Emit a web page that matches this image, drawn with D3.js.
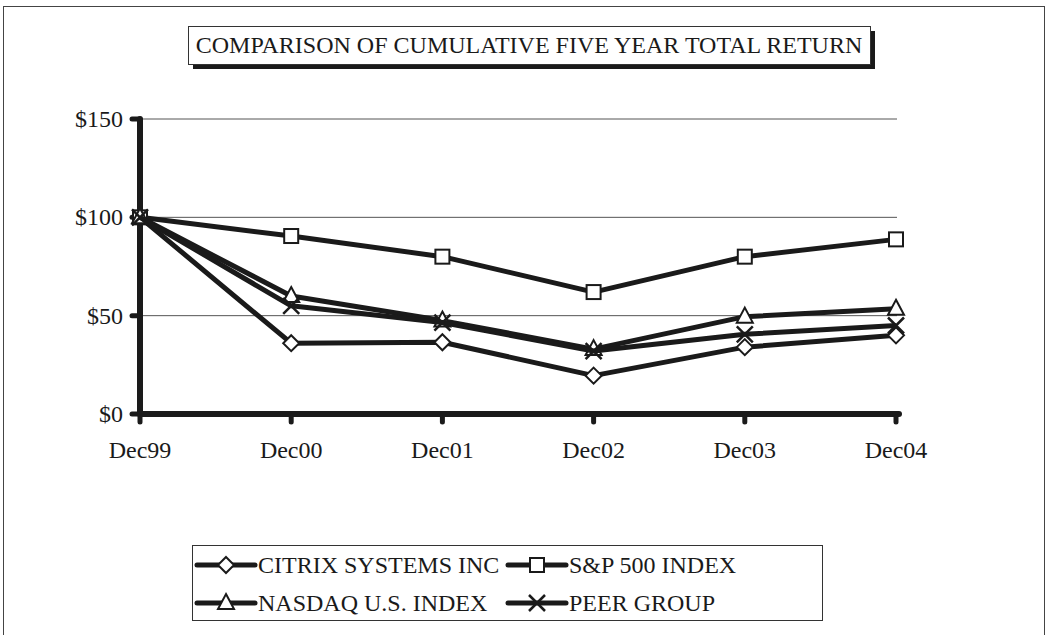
<!DOCTYPE html>
<html>
<head>
<meta charset="utf-8">
<script src="https://cdn.jsdelivr.net/npm/d3@7"></script>
<style>
  body { margin: 0; background: #fff; }
</style>
</head>
<body>
<div id="chart"></div>
<script>
// chart data
const periods = ['Dec99', 'Dec00', 'Dec01', 'Dec02', 'Dec03', 'Dec04']
const citrix = [100, 36, 36.5, 19.5, 34, 40]
const sp500 = [100, 90.5, 80, 62, 80, 88.8]
const nasdaq = [100, 60, 47.5, 33, 49.5, 53.5]
const peer = [100, 55, 46.5, 32, 40.5, 45]
const yTicks = [0, 50, 100, 150]

const series = [
  { name: 'CITRIX SYSTEMS INC', values: citrix, marker: 'diamond' },
  { name: 'S&P 500 INDEX', values: sp500, marker: 'square' },
  { name: 'NASDAQ U.S. INDEX', values: nasdaq, marker: 'triangle' },
  { name: 'PEER GROUP', values: peer, marker: 'cross' }
]

const width = 1047
const height = 635
const ink = '#1a1a1a'
const serif = '"Liberation Serif", "Times New Roman", Times, "DejaVu Serif", serif'

const svg = d3.select('#chart').append('svg')
  .attr('width', width)
  .attr('height', height)
  .attr('font-family', serif)

// outer frame
svg.append('rect')
  .attr('x', 3.5).attr('y', 6.5)
  .attr('width', 1041).attr('height', 660)
  .attr('fill', 'none').attr('stroke', '#444').attr('stroke-width', 1)

// title box with drop shadow
svg.append('rect')
  .attr('x', 193).attr('y', 31).attr('width', 682).attr('height', 38)
  .attr('fill', ink)
svg.append('rect')
  .attr('x', 188.5).attr('y', 26.5).attr('width', 682).attr('height', 38)
  .attr('fill', '#fff').attr('stroke', '#333').attr('stroke-width', 1)
svg.append('text')
  .attr('x', 529).attr('y', 53)
  .attr('text-anchor', 'middle')
  .attr('fill', ink)
  .style('font-size', '24px')
  .text('COMPARISON OF CUMULATIVE FIVE YEAR TOTAL RETURN')

const x = d3.scalePoint().domain(periods).range([140, 896])
const y = d3.scaleLinear().domain([0, 150]).range([414, 119])

// gridlines
svg.append('g')
  .selectAll('line')
  .data(yTicks.filter(d => d > 0))
  .join('line')
  .attr('x1', x.range()[0]).attr('x2', 897)
  .attr('y1', d => y(d)).attr('y2', d => y(d))
  .attr('stroke', '#555').attr('stroke-width', 1)

// axes: thick black lines with short rounded ticks
const axes = svg.append('g')
  .attr('stroke', ink).attr('stroke-linecap', 'round')
axes.selectAll('.ytick')
  .data(yTicks)
  .join('line')
  .attr('x1', 132).attr('x2', 140)
  .attr('y1', d => y(d)).attr('y2', d => y(d))
  .attr('stroke-width', 5)
axes.selectAll('.xtick')
  .data(periods)
  .join('line')
  .attr('x1', d => x(d)).attr('x2', d => x(d))
  .attr('y1', 414).attr('y2', 422)
  .attr('stroke-width', 5)
axes.append('line')
  .attr('x1', 140).attr('x2', 140).attr('y1', y(150)).attr('y2', y(0))
  .attr('stroke-width', 6)
axes.append('line')
  .attr('x1', 140).attr('x2', 899).attr('y1', y(0)).attr('y2', y(0))
  .attr('stroke-width', 6)

svg.append('g')
  .selectAll('text')
  .data(yTicks)
  .join('text')
  .attr('x', 123).attr('y', d => y(d) + 8)
  .attr('text-anchor', 'end')
  .attr('fill', ink)
  .style('font-size', '24px')
  .text(d => '$' + d)

svg.append('g')
  .selectAll('text')
  .data(periods)
  .join('text')
  .attr('x', d => x(d)).attr('y', 458)
  .attr('text-anchor', 'middle')
  .attr('fill', ink)
  .style('font-size', '24px')
  .text(d => d)

function drawMarker (g, type, cx, cy) {
  if (type === 'square') {
    g.append('rect')
      .attr('x', cx - 7).attr('y', cy - 7).attr('width', 14).attr('height', 14)
      .attr('fill', '#fff').attr('stroke', ink).attr('stroke-width', 2)
  } else if (type === 'diamond') {
    g.append('path')
      .attr('d', `M${cx},${cy - 8}L${cx + 8},${cy}L${cx},${cy + 8}L${cx - 8},${cy}Z`)
      .attr('fill', '#fff').attr('stroke', ink).attr('stroke-width', 2)
  } else if (type === 'triangle') {
    g.append('path')
      .attr('d', `M${cx},${cy - 9}L${cx + 8},${cy + 6}L${cx - 8},${cy + 6}Z`)
      .attr('fill', '#fff').attr('stroke', ink).attr('stroke-width', 2)
  } else {
    g.append('path')
      .attr('d', `M${cx - 8},${cy - 8}L${cx + 8},${cy + 8}M${cx + 8},${cy - 8}L${cx - 8},${cy + 8}`)
      .attr('fill', 'none').attr('stroke', ink).attr('stroke-width', 2.5)
  }
}

const line = d3.line()
  .x((d, i) => x(periods[i]))
  .y(d => y(d))

series.forEach(s => {
  const g = svg.append('g')
  g.append('path')
    .datum(s.values)
    .attr('d', line)
    .attr('fill', 'none')
    .attr('stroke', ink)
    .attr('stroke-width', 5)
    .attr('stroke-linejoin', 'round')
  s.values.forEach((v, i) => drawMarker(g, s.marker, x(periods[i]), y(v)))
})

// legend
const legend = svg.append('g')
legend.append('rect')
  .attr('x', 192.5).attr('y', 545.5).attr('width', 630).attr('height', 75)
  .attr('fill', '#fff').attr('stroke', '#333').attr('stroke-width', 1)

const legendPos = [[197, 565], [508, 565], [197, 603], [508, 603]]
series.forEach((s, i) => {
  const [lx, ly] = legendPos[i]
  const g = legend.append('g')
  g.append('line')
    .attr('x1', lx).attr('x2', lx + 58).attr('y1', ly).attr('y2', ly)
    .attr('stroke', ink).attr('stroke-width', 5).attr('stroke-linecap', 'round')
  drawMarker(g, s.marker, lx + 29, ly)
  g.append('text')
    .attr('x', lx + 61).attr('y', ly + 8)
    .attr('fill', ink)
    .style('font-size', '24px')
    .text(s.name)
})
</script>
</body>
</html>
